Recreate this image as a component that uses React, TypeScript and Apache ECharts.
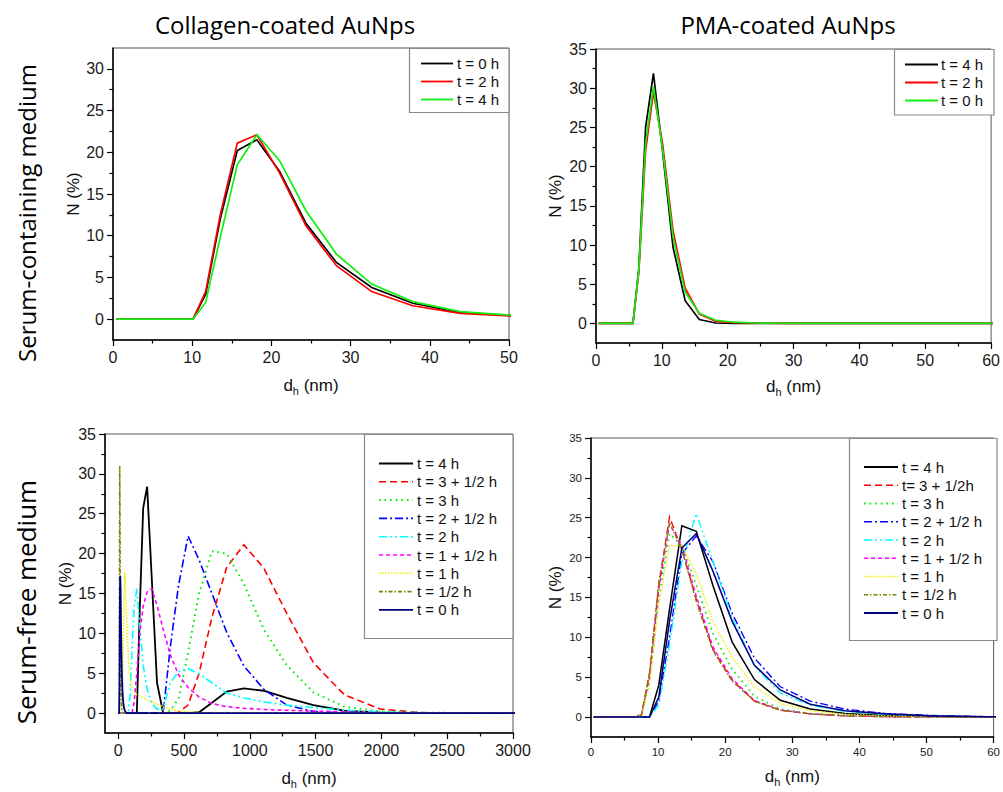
import React, { useEffect, useRef } from "react";
import * as echarts from "echarts";

// ---------- DATA ----------
// Top-left: Collagen-coated, serum-containing medium
const tlX = [0.4, 10.1, 11.7, 13.54, 15.69, 18.17, 21.04, 24.36, 28.21, 32.67, 37.84, 43.82, 50.75];
const tlT0h = [0, 0, 3.0, 12.0, 20.2, 21.5, 17.7, 11.5, 6.8, 3.8, 1.9, 0.8, 0.4];
const tlT2h = [0, 0, 3.3, 12.5, 21.1, 22.1, 17.5, 11.2, 6.4, 3.3, 1.6, 0.7, 0.35];
const tlT4h = [0, 0, 2.0, 9.8, 18.5, 22.1, 19.0, 13.0, 7.8, 4.2, 2.1, 0.9, 0.45];
const tlLabels = ["t = 0 h", "t = 2 h", "t = 4 h"];

// Top-right: PMA-coated, serum-containing medium
const trX = [0.4, 5.615, 6.503, 7.531, 8.721, 10.1, 11.7, 13.54, 15.69, 18.17, 21.04, 24.36, 28.21, 32.67, 68.06];
const trT4h = [0, 0, 7.0, 25.0, 31.9, 22.0, 9.7, 2.9, 0.5, 0.05, 0, 0, 0, 0, 0];
const trT2h = [0, 0, 6.5, 22.0, 29.5, 23.0, 11.8, 4.5, 1.2, 0.3, 0.1, 0.05, 0, 0, 0];
const trT0h = [0, 0, 6.8, 23.0, 30.2, 22.3, 11.0, 4.0, 1.3, 0.4, 0.15, 0.05, 0.02, 0, 0];
const trLabels = ["t = 4 h", "t = 2 h", "t = 0 h"];

// Bottom-left: Collagen-coated, serum-free medium
const blX = [0.4, 5.615, 7.531, 8.721, 10.1, 11.7, 13.54, 15.69, 18.17, 21.04,
  24.36, 28.21, 32.67, 37.84, 43.82, 50.75, 58.77, 68.06, 78.82, 91.28,
  105.7, 122.4, 141.8, 164.2, 190.1, 220.2, 255.0, 295.3, 342.0, 396.1,
  458.7, 531.2, 615.1, 712.4, 825.0, 955.4, 1106, 1281, 1484, 1718,
  1990, 2305, 2669, 3091];
const blT4h = [0, 0, 0, 0, 0, 0, 0, 0, 0, 0,
  0, 0, 0, 0, 0, 0, 0, 0, 0, 0,
  0, 0, 0, 13, 25.7, 28.4, 17, 3.8, 0, 0,
  0, 0, 0.1, 1.3, 2.7, 3.1, 2.8, 1.9, 1.0, 0.3,
  0.05, 0, 0, 0];
const blT35h = [0, 0, 0, 0, 0, 0, 0, 0, 0, 0,
  0, 0, 0, 0, 0, 0, 0, 0, 0, 0,
  0, 0, 0, 0, 0, 0, 0, 0, 0, 0,
  0.1, 1.0, 5, 12, 18.3, 21.1, 18.2, 12.5, 6.3, 2.3,
  0.5, 0.05, 0, 0];
const blT3h = [0, 0, 0, 0, 0, 0, 0, 0, 0, 0,
  0, 0, 0, 0, 0, 0, 0, 0, 0, 0,
  0, 0, 0, 0, 0, 0, 0, 0, 0, 0.3,
  1.8, 7.6, 15, 20.3, 20.0, 16.2, 10.5, 6.0, 2.6, 0.8,
  0.2, 0.05, 0, 0];
const blT25h = [0, 0, 0, 0, 0, 0, 0, 0, 0, 0,
  0, 0, 0, 0, 0, 0, 0, 0, 0, 0,
  0, 0, 0, 0, 0, 0, 0, 0, 0, 8.3,
  16, 22.2, 19.2, 15, 10.1, 5.9, 3.0, 1.0, 0.2, 0,
  0, 0, 0, 0];
const blT2h = [0, 0, 0, 0, 0, 0, 0, 0, 0, 0,
  0, 0, 0, 0, 0, 0, 0, 0, 0.3, 2.5,
  8, 13.5, 15.6, 11, 6, 3, 1.2, 0.5, 0.5, 3.8,
  5.2, 5.6, 4.9, 3.8, 2.5, 1.9, 1.4, 1.0, 0.7, 0.35,
  0.15, 0.05, 0, 0];
const blT15h = [0, 0, 0, 0, 0, 0, 0, 0, 0, 0,
  0, 0, 0, 0, 0, 0, 0, 0, 0, 0,
  0, 1.5, 5, 10, 13.4, 15.2, 15.6, 13.5, 10.5, 7.3,
  4.8, 3.2, 2.0, 1.2, 0.8, 0.6, 0.45, 0.35, 0.25, 0.15,
  0.05, 0, 0, 0];
const blT1h = [0, 0, 0, 0, 0, 0, 0, 0, 0, 0,
  0, 0, 2, 8, 14, 17.6, 14, 10, 6.5, 4.2,
  3.0, 2.6, 2.3, 2.1, 1.9, 1.7, 1.4, 1.1, 0.8, 0.5,
  0.3, 0.15, 0.05, 0, 0, 0, 0, 0, 0, 0,
  0, 0, 0, 0];
const blT05h = [0, 0, 0, 4, 18, 31, 26, 16, 8, 3.5,
  1.3, 0.4, 0.1, 0, 0, 0, 0, 0, 0, 0,
  0, 0, 0, 0, 0, 0, 0, 0, 0, 0,
  0, 0, 0, 0, 0, 0, 0, 0, 0, 0,
  0, 0, 0, 0];
const blT0h = [0, 0, 0, 0, 3, 10, 15, 17.2, 16, 12,
  8, 5, 2.8, 1.5, 0.7, 0.3, 0.1, 0, 0, 0,
  0, 0, 0, 0, 0, 0, 0, 0, 0, 0,
  0, 0, 0, 0, 0, 0, 0, 0, 0, 0,
  0, 0, 0, 0];
const blLabels = ["t = 4 h", "t = 3 + 1/2 h", "t = 3 h", "t = 2 + 1/2 h", "t = 2 h", "t = 1 + 1/2 h", "t = 1 h", "t = 1/2 h", "t = 0 h"];

// Bottom-right: PMA-coated, serum-free medium
const brX = [0.4, 6.503, 7.531, 8.721, 10.1, 11.7, 13.54, 15.69, 18.17, 21.04, 24.36, 28.21, 32.67, 37.84, 43.82, 50.75, 58.77, 68.06];
const brT4h = [0, 0, 0, 0, 4.0, 13.5, 24.0, 23.3, 16.5, 9.4, 4.7, 2.1, 1.0, 0.45, 0.2, 0.08, 0.03, 0];
const brT35h = [0, 0, 0.3, 5.5, 16.5, 25.1, 21.0, 14.8, 8.5, 4.6, 2.0, 0.85, 0.4, 0.15, 0.05, 0.02, 0, 0];
const brT3h = [0, 0, 0.3, 4.5, 15.0, 23.0, 21.5, 16.5, 10.5, 6.0, 2.6, 1.0, 0.45, 0.2, 0.08, 0.03, 0, 0];
const brT25h = [0, 0, 0, 0, 2.0, 10.0, 20.5, 22.7, 19.5, 13.0, 7.4, 3.8, 2.0, 1.0, 0.45, 0.2, 0.05, 0];
const brT2h = [0, 0, 0, 0, 1.5, 9.0, 19.5, 25.5, 19.5, 12.5, 6.4, 3.0, 1.5, 0.7, 0.3, 0.1, 0.03, 0];
const brT15h = [0, 0, 0.3, 5.0, 16.0, 24.2, 21.5, 15.2, 8.8, 4.8, 2.1, 0.9, 0.4, 0.15, 0.05, 0.02, 0, 0];
const brT1h = [0, 0, 0.2, 4.0, 14.0, 21.5, 21.5, 18.0, 12.0, 7.5, 3.8, 1.7, 0.8, 0.35, 0.15, 0.05, 0.02, 0];
const brT05h = [0, 0, 0.3, 5.5, 17.0, 24.4, 21.0, 14.5, 8.3, 4.5, 2.0, 0.85, 0.4, 0.15, 0.05, 0.02, 0, 0];
const brT0h = [0, 0, 0, 0, 2.5, 12.0, 21.2, 23.0, 18.3, 12.0, 6.5, 3.4, 1.6, 0.8, 0.4, 0.15, 0.05, 0];
const brLabels = ["t = 4 h", "t= 3 + 1/2h", "t = 3 h", "t = 2 + 1/2 h", "t = 2 h", "t = 1 + 1/2 h", "t = 1 h", "t = 1/2 h", "t = 0 h"];

// Ticks
const yTicks30 = [0, 5, 10, 15, 20, 25, 30];
const yTicks35 = [0, 5, 10, 15, 20, 25, 30, 35];
const yMinor = [2.5, 7.5, 12.5, 17.5, 22.5, 27.5, 32.5];
const xTicks50 = [0, 10, 20, 30, 40, 50];
const xMinor50 = [5, 15, 25, 35, 45];
const xTicks60 = [0, 10, 20, 30, 40, 50, 60];
const xMinor60 = [5, 15, 25, 35, 45, 55];
const xTicks3000 = [0, 500, 1000, 1500, 2000, 2500, 3000];
const xMinor3000 = [250, 750, 1250, 1750, 2250, 2750];

const colTitles = ["Collagen-coated AuNps", "PMA-coated AuNps"];
const rowTitles = ["Serum-containing medium", "Serum-free medium"];

// ---------- STYLES ----------
const FONT = '"Liberation Sans", Arial, sans-serif';
const TITLE_FONT = '"Open Sans", "Noto Sans", sans-serif';
const topStyles = [
  { color: "#000000", type: "solid" as any },
  { color: "#ff0000", type: "solid" as any },
  { color: "#11ee11", type: "solid" as any },
];
const bottomStyles: { color: string; type: any; width: number }[] = [
  { color: "#000000", type: "solid", width: 1.8 },
  { color: "#ff0000", type: [7, 4], width: 1.6 },
  { color: "#00ee00", type: [1.6, 4], width: 2 },
  { color: "#0000ff", type: [8, 3, 2, 3], width: 1.6 },
  { color: "#00ffff", type: [8, 3, 2, 3, 2, 3], width: 1.6 },
  { color: "#ff00ff", type: [4, 3], width: 1.6 },
  { color: "#eeee00", type: [1.5, 1.5], width: 1.6 },
  { color: "#808000", type: [4, 2, 1.5, 2], width: 1.6 },
  { color: "#000080", type: "solid", width: 1.8 },
];

const pairs = (xs: number[], ys: number[]) => xs.map((x, i) => [x, ys[i]]);

type Panel = {
  grid: { left: number; top: number; width: number; height: number };
  xmin: number; xmax: number; xMajor: number[]; xMinor: number[];
  ymin: number; ymax: number; yMajor: number[];
  fontSize: number; nameSize: number; xNameGap: number; yNameGap: number;
};

const panels: Panel[] = [
  { grid: { left: 113, top: 48, width: 396, height: 292 }, xmin: 0, xmax: 50, xMajor: xTicks50, xMinor: xMinor50,
    ymin: -2.5, ymax: 32.5, yMajor: yTicks30, fontSize: 16, nameSize: 17, xNameGap: 34, yNameGap: 30 },
  { grid: { left: 596, top: 49, width: 398, height: 294 }, xmin: 0, xmax: 60, xMajor: xTicks60, xMinor: xMinor60,
    ymin: -2.5, ymax: 35, yMajor: yTicks35, fontSize: 16, nameSize: 17, xNameGap: 32, yNameGap: 32 },
  { grid: { left: 105, top: 434, width: 408, height: 299 }, xmin: -100, xmax: 3000, xMajor: xTicks3000, xMinor: xMinor3000,
    ymin: -2.5, ymax: 35, yMajor: yTicks35, fontSize: 16, nameSize: 17, xNameGap: 34, yNameGap: 31 },
  { grid: { left: 591, top: 438, width: 406, height: 299 }, xmin: 0, xmax: 60, xMajor: xTicks60, xMinor: xMinor60,
    ymin: -2.5, ymax: 35, yMajor: yTicks35, fontSize: 11.5, nameSize: 17, xNameGap: 28, yNameGap: 27 },
];

function buildOption() {
  const grid: any[] = [];
  const xAxis: any[] = [];
  const yAxis: any[] = [];
  const plain = (v: number) => String(v);
  panels.forEach((p, gi) => {
    grid.push({ ...p.grid, show: true, borderColor: "#555", borderWidth: 1, backgroundColor: "transparent", containLabel: false });
    const nameRich = {
      a: { fontSize: p.nameSize, fontFamily: FONT, color: "#111", lineHeight: 22 },
      b: { fontSize: 11, fontFamily: FONT, color: "#111", lineHeight: 22, verticalAlign: "bottom" },
    };
    xAxis.push({
      type: "value", gridIndex: gi, position: "bottom", min: p.xmin, max: p.xmax,
      axisLine: { onZero: false, lineStyle: { color: "#000", width: 1.5 } },
      axisTick: { customValues: p.xMajor, length: 6, lineStyle: { color: "#000", width: 1.2 } },
      axisLabel: { customValues: p.xMajor, formatter: plain, fontSize: p.fontSize, fontFamily: FONT, color: "#1a1a1a", margin: 9 },
      splitLine: { show: false },
      name: "{a|d}{b|h}{a| (nm)}", nameLocation: "middle", nameGap: p.xNameGap,
      nameTextStyle: { rich: nameRich },
    });
    xAxis.push({
      type: "value", gridIndex: gi, position: "bottom", min: p.xmin, max: p.xmax,
      axisLine: { show: false, onZero: false },
      axisTick: { customValues: p.xMinor, length: 3.5, lineStyle: { color: "#000", width: 1.2 } },
      axisLabel: { show: false }, splitLine: { show: false },
    });
    yAxis.push({
      type: "value", gridIndex: gi, position: "left", min: p.ymin, max: p.ymax,
      axisLine: { onZero: false, lineStyle: { color: "#000", width: 1.5 } },
      axisTick: { customValues: p.yMajor, length: 6, lineStyle: { color: "#000", width: 1.2 } },
      axisLabel: { customValues: p.yMajor, formatter: plain, fontSize: p.fontSize, fontFamily: FONT, color: "#1a1a1a", margin: 9 },
      splitLine: { show: false },
      name: "N (%)", nameLocation: "middle", nameGap: p.yNameGap,
      nameTextStyle: { fontSize: p.nameSize, fontFamily: FONT, color: "#111" },
    });
    yAxis.push({
      type: "value", gridIndex: gi, position: "left", min: p.ymin, max: p.ymax,
      axisLine: { show: false, onZero: false },
      axisTick: { customValues: yMinor.filter((v) => v < p.ymax), length: 3.5, lineStyle: { color: "#000", width: 1.2 } },
      axisLabel: { show: false }, splitLine: { show: false },
    });
  });

  const series: any[] = [];
  const addSeries = (gi: number, name: string, xs: number[], ys: number[], color: string, type: any, width: number) => {
    series.push({
      type: "line", name, xAxisIndex: gi * 2, yAxisIndex: gi * 2, data: pairs(xs, ys),
      showSymbol: false, symbol: "none", clip: true,
      lineStyle: { color, type, width, cap: "butt", join: "miter" },
      emphasis: { disabled: true }, silent: true,
    });
  };
  [tlT0h, tlT2h, tlT4h].forEach((ys, i) => addSeries(0, tlLabels[i], tlX, ys, topStyles[i].color, "solid", 1.7));
  [trT4h, trT2h, trT0h].forEach((ys, i) => addSeries(1, trLabels[i], trX, ys, topStyles[i].color, "solid", 1.7));
  [blT4h, blT35h, blT3h, blT25h, blT2h, blT15h, blT1h, blT05h, blT0h].forEach((ys, i) =>
    addSeries(2, blLabels[i], blX, ys, bottomStyles[i].color, bottomStyles[i].type, bottomStyles[i].width));
  [brT4h, brT35h, brT3h, brT25h, brT2h, brT15h, brT1h, brT05h, brT0h].forEach((ys, i) =>
    addSeries(3, brLabels[i], brX, ys, bottomStyles[i].color, bottomStyles[i].type, bottomStyles[i].width * 0.85));

  // Legends as graphic boxes
  const graphic: any[] = [];
  const legend = (
    box: [number, number, number, number], lx1: number, lx2: number, tx: number, y0: number, step: number,
    labels: string[], styles: { color: string; type: any; width?: number }[], fs: number
  ) => {
    graphic.push({ type: "rect", z: 100, shape: { x: box[0], y: box[1], width: box[2], height: box[3] },
      style: { fill: "#fff", stroke: "#8a8a8a", lineWidth: 1.2 } });
    labels.forEach((lab, i) => {
      const y = y0 + i * step;
      const st = styles[i];
      graphic.push({ type: "line", z: 101, shape: { x1: lx1, y1: y, x2: lx2, y2: y },
        style: { stroke: st.color, lineWidth: st.width || 1.8, lineDash: Array.isArray(st.type) ? st.type : null } });
      graphic.push({ type: "text", z: 101, x: tx, y, style: { text: lab, font: `${fs}px ${FONT}`, fill: "#111", align: "left", verticalAlign: "middle" } });
    });
  };
  legend([409.5, 48.5, 99.5, 64], 421, 453, 457, 63.5, 18, tlLabels, topStyles, 15);
  legend([894.5, 49.5, 99.5, 65.5], 905, 938, 941, 64.5, 18, trLabels, topStyles, 15);
  legend([364.5, 434.5, 148.5, 204], 379, 413, 417, 463.5, 18.3, blLabels, bottomStyles, 15);
  legend([849.5, 438.5, 147.5, 202], 864, 898, 902, 467, 18.25, brLabels, bottomStyles, 15);

  graphic.push({ type: "text", z: 100, x: 285, y: 24, style: { text: colTitles[0], font: `24px ${TITLE_FONT}`, fill: "#000", align: "center", verticalAlign: "middle" } });
  graphic.push({ type: "text", z: 100, x: 788, y: 24, style: { text: colTitles[1], font: `24px ${TITLE_FONT}`, fill: "#000", align: "center", verticalAlign: "middle" } });
  graphic.push({ type: "text", z: 100, x: 26, y: 213, rotation: Math.PI / 2, style: { text: rowTitles[0], font: `24px ${TITLE_FONT}`, fill: "#000", align: "center", verticalAlign: "middle" } });
  graphic.push({ type: "text", z: 100, x: 26, y: 602, rotation: Math.PI / 2, style: { text: rowTitles[1], font: `26px ${TITLE_FONT}`, fill: "#000", align: "center", verticalAlign: "middle" } });

  return { animation: false, backgroundColor: "#fff", grid, xAxis, yAxis, series, graphic };
}

export default function App() {
  const ref = useRef<HTMLDivElement>(null);
  useEffect(() => {
    if (!ref.current) return;
    const chart = echarts.init(ref.current, null, { renderer: "svg" });
    chart.setOption(buildOption() as any);
    return () => chart.dispose();
  }, []);
  return (
    <div
      ref={ref}
      style={{ position: "absolute", left: 0, top: 0, width: 1003, height: 792, background: "#fff" }}
    />
  );
}
